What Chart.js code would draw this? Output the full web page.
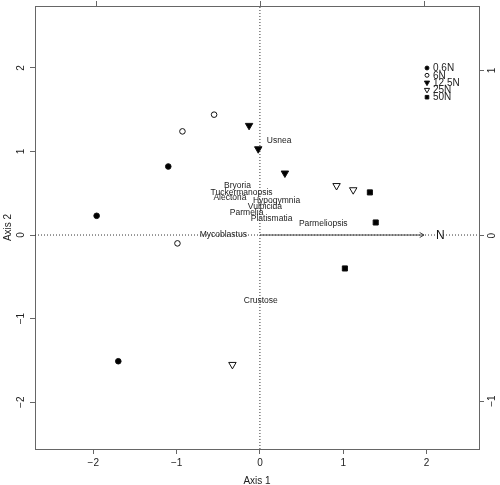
<!DOCTYPE html>
<html lang="en">
<head>
<meta charset="UTF-8" />
<title>Ordination biplot - Axis 1 / Axis 2</title>
<script src="https://cdn.jsdelivr.net/npm/chart.js@4"></script>
<style>
  html, body { margin: 0; padding: 0; background: #fff; }
  canvas { display: block; }
</style>
</head>
<body>
<canvas id="ordChart" width="500" height="485"></canvas>
<script>
// ---- data ----
const groupNames = ['0.6N', '6N', '12.5N', '25N', '50N'];

const site06N  = [{x: -1.96, y: 0.23}, {x: -1.10, y: 0.82}, {x: -1.70, y: -1.51}];
const site6N   = [{x: -0.93, y: 1.24}, {x: -0.55, y: 1.44}, {x: -0.99, y: -0.10}];
const site125N = [{x: -0.13, y: 1.31}, {x: -0.02, y: 1.03}, {x: 0.30, y: 0.74}];
const site25N  = [{x: 0.92, y: 0.59}, {x: 1.12, y: 0.54}, {x: -0.33, y: -1.55}];
const site50N  = [{x: 1.32, y: 0.51}, {x: 1.39, y: 0.15}, {x: 1.02, y: -0.40}];

const speciesNames = ['Usnea', 'Bryoria', 'Tuckermanopsis', 'Alectoria', 'Hypogymnia',
  'Vulpicida', 'Parmelia', 'Platismatia', 'Parmeliopsis', 'Mycoblastus', 'Crustose'];
const speciesX = [0.23, -0.27, -0.22, -0.36, 0.20, 0.06, -0.16, 0.14, 0.76, -0.44, 0.01];
const speciesY = [1.13, 0.59, 0.51, 0.45, 0.41, 0.34, 0.27, 0.20, 0.14, 0.01, -0.78];

const vectorNames = ['N'];
const vectorX = [1.97];
const vectorY = [0];

const xRange = [-2.70, 2.63];
const yRange = [-2.56, 2.74];
const topRange = [-1.374, 1.335];
const rightRange = [-1.29, 1.39];

// ---- styling ----
const FONT = 'Liberation Sans, Arial, Helvetica, sans-serif';
const AXIS_COL = '#666';
const TEXT_COL = '#222';

const groupStyles = [
  {pointStyle: 'circle',   rotation: 0,   radius: 2.8, fill: '#000'},
  {pointStyle: 'circle',   rotation: 0,   radius: 2.8, fill: 'rgba(0,0,0,0)'},
  {pointStyle: 'triangle', rotation: 180, radius: 4.3, fill: '#000'},
  {pointStyle: 'triangle', rotation: 180, radius: 4.3, fill: 'rgba(0,0,0,0)'},
  {pointStyle: 'rect',     rotation: 0,   radius: 3.6, fill: '#000'}
];
const siteData = [site06N, site6N, site125N, site25N, site50N];

const fmtTick = v => (v < 0 ? '\u2212' + Math.abs(v) : String(v));

const datasets = siteData.map((pts, i) => ({
  label: groupNames[i],
  data: pts,
  pointStyle: groupStyles[i].pointStyle,
  rotation: groupStyles[i].rotation,
  pointRadius: groupStyles[i].radius,
  pointBackgroundColor: groupStyles[i].fill,
  pointBorderColor: '#111',
  pointBorderWidth: 1,
  clip: false
}));

// species scores (labels only)
datasets.push({
  label: 'species',
  data: speciesX.map((x, i) => ({x: x, y: speciesY[i]})),
  pointRadius: 0
});
// fitted vector
datasets.push({
  type: 'line',
  label: 'vector',
  data: [{x: 0, y: 0}, {x: vectorX[0], y: vectorY[0]}],
  borderColor: '#444',
  borderWidth: 1,
  pointRadius: 0
});
// dotted zero lines
datasets.push({
  type: 'line',
  label: 'zeroH',
  data: [{x: xRange[0], y: 0}, {x: xRange[1], y: 0}],
  borderColor: '#333',
  borderWidth: 1,
  borderDash: [1, 2],
  pointRadius: 0
});
datasets.push({
  type: 'line',
  label: 'zeroV',
  data: [{x: 0, y: yRange[0]}, {x: 0, y: yRange[1]}],
  borderColor: '#333',
  borderWidth: 1,
  borderDash: [1, 2],
  pointRadius: 0
});

const SPECIES_IDX = 5;
const VECTOR_IDX = 6;

const speciesLabels = {
  id: 'speciesLabels',
  afterDatasetsDraw(chart) {
    const ctx = chart.ctx;
    const meta = chart.getDatasetMeta(SPECIES_IDX);
    ctx.save();
    ctx.font = '8.5px ' + FONT;
    ctx.fillStyle = TEXT_COL;
    ctx.textAlign = 'center';
    ctx.textBaseline = 'middle';
    meta.data.forEach((pt, i) => ctx.fillText(speciesNames[i], pt.x, pt.y));
    ctx.restore();
  }
};

const vectorArrow = {
  id: 'vectorArrow',
  afterDatasetsDraw(chart) {
    const ctx = chart.ctx;
    const meta = chart.getDatasetMeta(VECTOR_IDX);
    const p0 = meta.data[0], p1 = meta.data[1];
    const ang = Math.atan2(p1.y - p0.y, p1.x - p0.x);
    const len = 5;
    ctx.save();
    ctx.strokeStyle = '#444';
    ctx.lineWidth = 1;
    ctx.beginPath();
    ctx.moveTo(p1.x - len * Math.cos(ang - Math.PI / 6), p1.y - len * Math.sin(ang - Math.PI / 6));
    ctx.lineTo(p1.x, p1.y);
    ctx.lineTo(p1.x - len * Math.cos(ang + Math.PI / 6), p1.y - len * Math.sin(ang + Math.PI / 6));
    ctx.stroke();
    // label just beyond the tip
    const lx = chart.scales.x.getPixelForValue(vectorX[0] * 1.1);
    const ly = chart.scales.y.getPixelForValue(vectorY[0] * 1.1);
    ctx.font = '12px ' + FONT;
    ctx.fillStyle = '#111';
    ctx.textAlign = 'center';
    ctx.textBaseline = 'middle';
    ctx.fillText(vectorNames[0], lx, ly + 1);
    ctx.restore();
  }
};

const rlegend = {
  id: 'rlegend',
  afterDraw(chart) {
    const ctx = chart.ctx;
    const area = chart.chartArea;
    const sx = area.right - 52;
    let sy = area.top + 62;
    ctx.save();
    ctx.font = '10px ' + FONT;
    ctx.textAlign = 'left';
    ctx.textBaseline = 'middle';
    groupNames.forEach((name, i) => {
      const st = groupStyles[i];
      ctx.fillStyle = st.fill;
      ctx.strokeStyle = '#111';
      ctx.lineWidth = 1;
      Chart.helpers.drawPoint(ctx, {
        pointStyle: st.pointStyle, rotation: st.rotation,
        radius: st.radius * 0.7, borderWidth: 1
      }, sx, sy);
      ctx.fillStyle = TEXT_COL;
      ctx.fillText(name, sx + 6, sy + 0.5);
      sy += 7.3;
    });
    ctx.restore();
  }
};

// rotated tick labels on left and right axes (R style, parallel to axis)
const sideTicks = {
  id: 'sideTicks',
  afterDraw(chart) {
    const ctx = chart.ctx;
    ctx.save();
    ctx.font = '10px ' + FONT;
    ctx.fillStyle = TEXT_COL;
    ctx.textAlign = 'center';
    ctx.textBaseline = 'middle';
    const draw = (scale, x) => {
      scale.ticks.forEach(t => {
        const y = scale.getPixelForValue(t.value);
        ctx.save();
        ctx.translate(x, y);
        ctx.rotate(-Math.PI / 2);
        ctx.fillText(fmtTick(t.value), 0, 0);
        ctx.restore();
      });
    };
    draw(chart.scales.y, chart.scales.y.right - 14);
    draw(chart.scales.y2, chart.scales.y2.left + 13);
    ctx.restore();
  }
};

const edgeGrid = {drawOnChartArea: false, drawTicks: true, tickLength: 5, color: AXIS_COL};
const edgeBorder = {display: true, color: AXIS_COL, width: 1};

const ctx = document.getElementById('ordChart').getContext('2d');
const chart = new Chart(ctx, {
  type: 'scatter',
  data: {datasets: datasets},
  options: {
    responsive: false,
    animation: false,
    layout: {padding: 0},
    plugins: {legend: {display: false}, tooltip: {enabled: false}},
    scales: {
      x: {
        type: 'linear', position: 'bottom', min: xRange[0], max: xRange[1],
        ticks: {stepSize: 1, includeBounds: false, padding: 3, color: TEXT_COL,
                font: {family: FONT, size: 10}, callback: fmtTick},
        grid: edgeGrid, border: edgeBorder,
        title: {display: true, text: 'Axis 1', color: TEXT_COL,
                font: {family: FONT, size: 10, lineHeight: 0.8}, padding: {top: 0, bottom: 0}},
        afterFit: s => { s.height = 36; }
      },
      x2: {
        type: 'linear', position: 'top', min: topRange[0], max: topRange[1],
        ticks: {stepSize: 1, includeBounds: false, display: false},
        grid: edgeGrid, border: edgeBorder,
        afterFit: s => { s.height = 6; }
      },
      y: {
        type: 'linear', position: 'left', min: yRange[0], max: yRange[1],
        ticks: {stepSize: 1, includeBounds: false, display: false},
        grid: edgeGrid, border: edgeBorder,
        title: {display: true, text: 'Axis 2', color: TEXT_COL,
                font: {family: FONT, size: 10}, padding: {top: 2, bottom: 0}},
        afterFit: s => { s.width = 35; }
      },
      y2: {
        type: 'linear', position: 'right', min: rightRange[0], max: rightRange[1],
        ticks: {stepSize: 1, includeBounds: false, display: false},
        grid: edgeGrid, border: edgeBorder,
        afterFit: s => { s.width = 21; }
      }
    }
  },
  plugins: [speciesLabels, vectorArrow, rlegend, sideTicks]
});
</script>
</body>
</html>
